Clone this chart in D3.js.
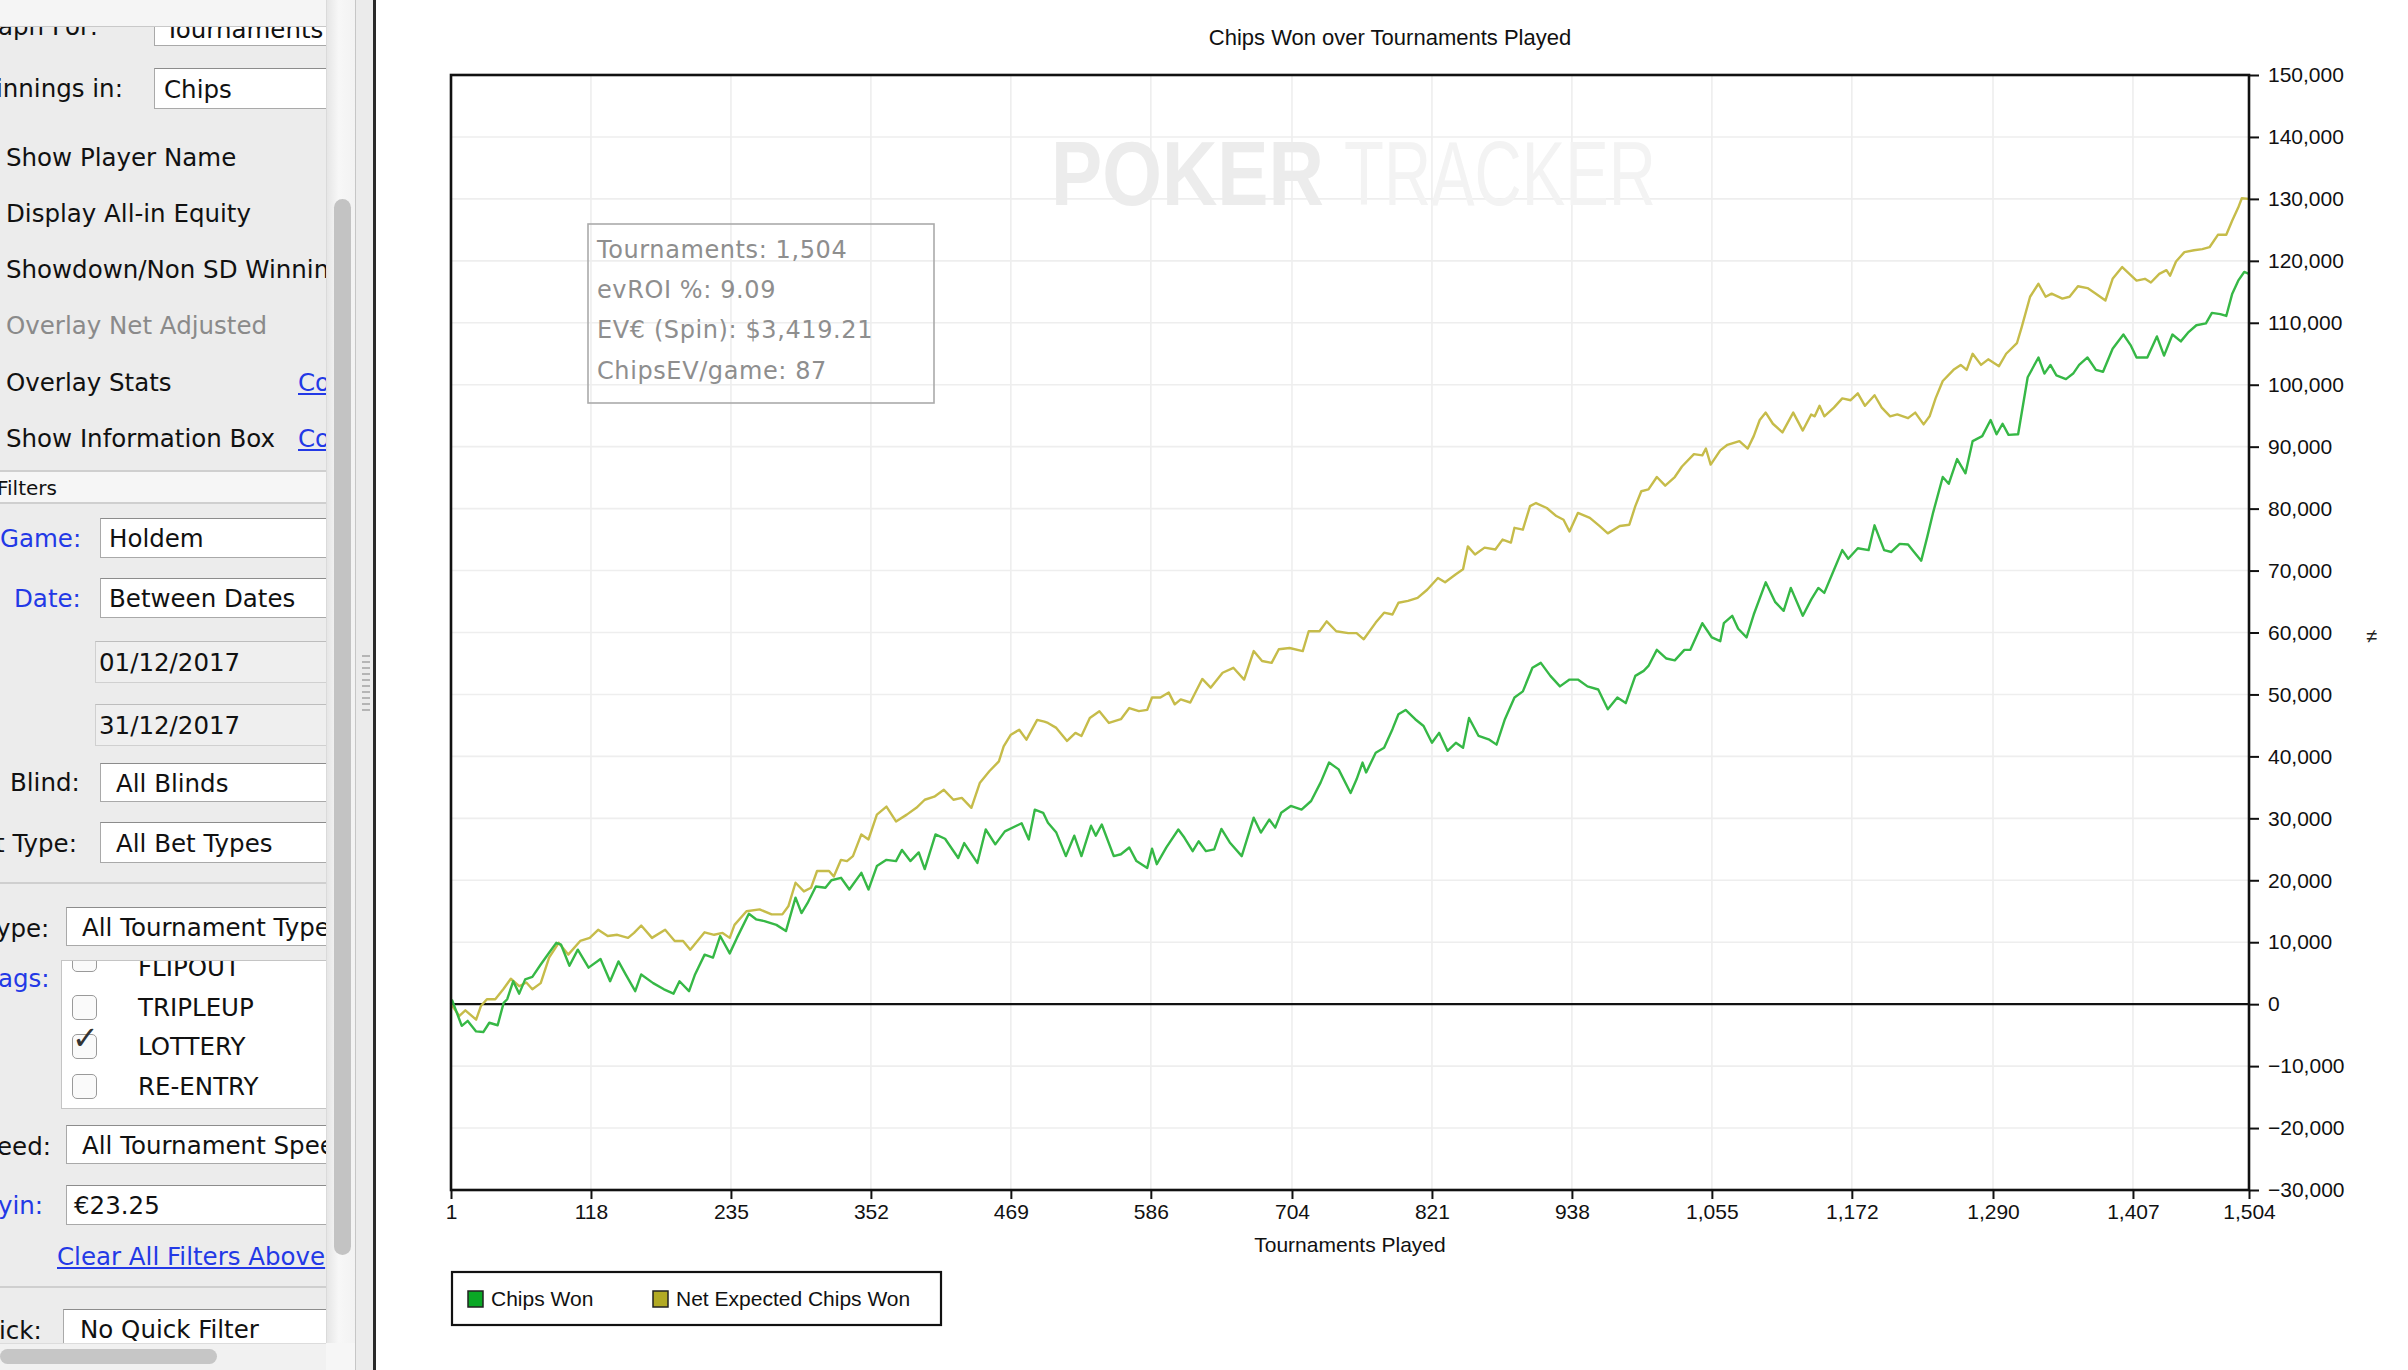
<!DOCTYPE html>
<html>
<head>
<meta charset="utf-8">
<script src="https://cdn.jsdelivr.net/npm/d3@7"></script>
<style>
  html, body { margin: 0; padding: 0; }
  body { width: 2408px; height: 1370px; overflow: hidden; background: #fff; position: relative; }
  #panel { position: absolute; left: 0; top: 0; width: 326px; height: 1370px; background: #ececec; overflow: hidden;
           font-family: "DejaVu Sans", sans-serif; font-size: 24.5px; color: #111; }
  .lbl { position: absolute; white-space: nowrap; line-height: 30px; height: 30px; }
  .blue { color: #2339e6; }
  .gray { color: #8a8a8a; }
  .link { color: #2339e6; text-decoration: underline; }
  .field { position: absolute; background: #fff; border: 1px solid #a9a9a9; border-top-color: #8c8c8c; box-sizing: border-box;
           white-space: nowrap; overflow: hidden; }
  .field span { position: absolute; top: 50%; transform: translateY(-50%); }
  .datef { background: #efefef; border-color: #d0d0d0; border-top-color: #bdbdbd; }
  .sep { position: absolute; left: 0; width: 326px; height: 2px; background: #cfcfcf; }
  .cb { position: absolute; width: 25px; height: 25px; border: 1px solid #9a9a9a; border-radius: 5px; background: #fafafa; box-sizing: border-box; }
  #chart { position: absolute; left: 0; top: 0; }
</style>
</head>
<body>
<div id="panel">
  <div class="lbl" style="left:-2px; top:12px;">aph For:</div>
  <div class="field" style="left:154px; top:18px; width:180px; height:28px;"><span style="left:10px; top:10px;">Tournaments</span></div>
  <div style="position:absolute; left:0; top:0; width:326px; height:26px; background:#f5f5f5; border-bottom:1px solid #c9c9c9;"></div>

  <div class="lbl" style="left:-4px; top:74px;">innings in:</div>
  <div class="field" style="left:154px; top:68px; width:180px; height:41px;"><span style="left:9px;">Chips</span></div>

  <div class="lbl" style="left:6px; top:143px;">Show Player Name</div>
  <div class="lbl" style="left:6px; top:199px;">Display All-in Equity</div>
  <div class="lbl" style="left:6px; top:255px;">Showdown/Non SD Winnings</div>
  <div class="lbl gray" style="left:6px; top:311px;">Overlay Net Adjusted</div>
  <div class="lbl" style="left:6px; top:368px;">Overlay Stats</div>
  <div class="lbl link" style="left:298px; top:368px;">Configure</div>
  <div class="lbl" style="left:6px; top:424px;">Show Information Box</div>
  <div class="lbl link" style="left:298px; top:424px;">Configure</div>

  <div class="sep" style="top:470px;"></div>
  <div style="position:absolute; left:0; top:472px; width:326px; height:30px; background:#f6f6f6;"></div>
  <div class="lbl" style="left:-3px; top:473px; font-size:20px;">Filters</div>
  <div class="sep" style="top:502px;"></div>

  <div class="lbl blue" style="left:0px; top:524px;">Game:</div>
  <div class="field" style="left:100px; top:518px; width:240px; height:40px;"><span style="left:8px;">Holdem</span></div>
  <div class="lbl blue" style="left:14px; top:584px;">Date:</div>
  <div class="field" style="left:100px; top:578px; width:240px; height:40px;"><span style="left:8px;">Between Dates</span></div>
  <div class="field datef" style="left:95px; top:641px; width:245px; height:42px;"><span style="left:3px;">01/12/2017</span></div>
  <div class="field datef" style="left:95px; top:704px; width:245px; height:42px;"><span style="left:3px;">31/12/2017</span></div>

  <div class="lbl" style="left:10px; top:768px;">Blind:</div>
  <div class="field" style="left:100px; top:763px; width:240px; height:39px;"><span style="left:15px;">All Blinds</span></div>
  <div class="lbl" style="left:-5px; top:829px;">t Type:</div>
  <div class="field" style="left:100px; top:822px; width:240px; height:41px;"><span style="left:15px;">All Bet Types</span></div>

  <div class="sep" style="top:882px;"></div>

  <div class="lbl" style="left:-4px; top:914px;">ype:</div>
  <div class="field" style="left:66px; top:907px; width:280px; height:39px;"><span style="left:15px;">All Tournament Types</span></div>

  <div class="lbl blue" style="left:-2px; top:964px;">ags:</div>
  <div class="field" style="left:61px; top:960px; width:280px; height:149px; border-color:#c4c4c4;">
    <div class="cb" style="left:10px; top:-14px;"></div>
    <div class="lbl" style="left:76px; top:-8px;">FLIPOUT</div>
    <div class="cb" style="left:10px; top:34px;"></div>
    <div class="lbl" style="left:76px; top:32px;">TRIPLEUP</div>
    <div class="cb" style="left:10px; top:73px;"></div>
    <div class="lbl" style="left:10px; top:62px; font-size:32px; font-weight:bold; color:#333;">&#10003;</div>
    <div class="lbl" style="left:76px; top:71px;">LOTTERY</div>
    <div class="cb" style="left:10px; top:113px;"></div>
    <div class="lbl" style="left:76px; top:111px;">RE-ENTRY</div>
  </div>

  <div class="lbl" style="left:-3px; top:1132px;">eed:</div>
  <div class="field" style="left:66px; top:1125px; width:280px; height:39px;"><span style="left:15px;">All Tournament Speeds</span></div>
  <div class="lbl blue" style="left:-2px; top:1191px;">yin:</div>
  <div class="field" style="left:66px; top:1185px; width:280px; height:40px;"><span style="left:7px;">€23.25</span></div>
  <div class="lbl link" style="left:57px; top:1242px;">Clear All Filters Above</div>

  <div class="sep" style="top:1286px;"></div>
  <div class="lbl" style="left:-1px; top:1316px;">ick:</div>
  <div class="field" style="left:63px; top:1309px; width:280px; height:40px;"><span style="left:16px;">No Quick Filter</span></div>

  <div style="position:absolute; left:0; top:1343px; width:326px; height:27px; background:#f1f1f1; border-top:1px solid #dcdcdc;"></div>
  <div style="position:absolute; left:0; top:1349px; width:217px; height:15px; background:#c6c6c6; border-radius:8px;"></div>
</div>

<!-- scrollbar and divider -->
<div style="position:absolute; left:326px; top:0; width:29px; height:1343px; background:linear-gradient(to right,#e6e6e6,#f7f7f7 40%,#f2f2f2); border-left:1px solid #dadada;"></div>
<div style="position:absolute; left:334px; top:199px; width:17px; height:1056px; background:#c3c3c3; border-radius:9px;"></div>
<div style="position:absolute; left:326px; top:1343px; width:30px; height:27px; background:#f6f6f6;"></div>
<div style="position:absolute; left:355px; top:0; width:17px; height:1370px; background:#ebebeb; border-left:1px solid #c6c6c6; border-right:1px solid #d8d8d8;"></div>
<div style="position:absolute; left:373px; top:0; width:3px; height:1370px; background:#2a2a2a;"></div>
<div style="position:absolute; left:362px; top:655px; width:8px; height:56px; background:repeating-linear-gradient(to bottom,#b5b5b5 0 2px,transparent 2px 6px);"></div>

<svg id="chart" width="2408" height="1370"></svg>

<script>
// x ticks, y ticks
const xTicks = [1, 118, 235, 352, 469, 586, 704, 821, 938, 1055, 1172, 1290, 1407, 1504];
const yTicks = d3.range(-30000, 150001, 10000);

// Chips Won (thousands)
const chipsWonAt = [1,2,10,15,22,28,33,40,45,48,53,58,63,69,76,83,89,93,100,107,116,126,134,141,147,155,160,170,179,187,192,200,205,213,220,226,234,240,250,256,263,273,281,289,294,299,306,314,319,327,334,344,350,357,365,373,378,385,392,397,406,414,425,430,441,448,456,464,478,484,489,496,
  500,507,515,522,528,536,540,545,555,561,568,574,583,587,591,599,609,614,621,626,632,639,645,652,662,672,678,685,690,695,703,712,720,728,735,743,753,758,763,766,774,781,788,793,799,807,814,821,827,834,841,847,852,860,869,875,882,890,897,905,912,920,928,936,943,951,960,968,976,983,991,998,
  1002,1009,1017,1024,1032,1037,1047,1055,1062,1065,1072,1077,1084,1090,1100,1108,1115,1121,1131,1138,1144,1149,1157,1164,1169,1177,1186,1191,1199,1205,1212,1219,1224,1230,1235,1240,1248,1253,1260,1267,1273,1281,1288,1293,1298,1303,1311,1319,1328,1333,1338,1343,1351,1357,1362,1369,1376,1382,1390,1399,1405,1410,1419,1427,1433,1440,1447,1453,1460,1468,1473,1480,1485,1490,1495,1500,1504];
const chipsWon = [0,0.6,-3.5,-2.7,-4.4,-4.5,-3.0,-3.4,0.2,0.8,3.7,1.7,4.0,4.4,6.4,8.3,9.9,9.6,6.2,8.8,5.9,7.3,3.7,6.9,4.8,2.1,4.8,3.4,2.4,1.7,3.7,2.1,4.8,8.0,7.5,11.0,8.2,10.7,14.6,13.7,13.4,12.8,11.8,17.2,14.7,16.3,19.0,18.8,20.0,20.4,18.5,21.2,18.5,22.3,23.3,23.1,24.9,23.1,24.5,21.8,27.4,26.7,23.6,26.0,22.8,28.2,25.8,27.9,29.2,26.6,31.4,30.9,
  29.3,27.7,23.9,27.2,23.9,28.8,27.2,29.0,23.9,24.2,25.3,23.1,22.0,25.1,22.6,25.3,28.2,26.9,24.7,26.3,24.7,25.0,28.3,26.1,23.9,30.1,27.7,29.8,28.5,30.9,32.0,31.4,32.8,35.8,39.0,37.9,34.1,36.3,39.0,37.4,40.6,41.4,44.4,46.8,47.5,46.0,44.9,42.2,43.8,40.9,42.2,41.4,46.2,43.3,42.7,41.9,46.0,49.5,50.5,54.3,55.1,53.0,51.3,52.4,52.4,51.3,50.8,47.6,49.5,48.6,53.0,53.8,
  54.6,57.2,55.8,55.5,57.2,57.2,61.5,59.2,58.6,61.5,62.7,60.6,59.2,62.9,68.1,64.9,63.5,67.2,62.7,65.3,67.2,66.4,70.1,73.3,71.9,73.6,73.3,77.3,73.3,73.0,74.3,74.2,73.0,71.6,75.4,79.4,85.1,84.0,88.0,85.7,90.9,91.7,94.3,92.0,93.7,91.9,92.0,101.2,104.4,101.8,103.2,101.5,100.9,101.8,103.2,104.4,102.4,102.1,105.8,108.1,106.4,104.4,104.4,107.8,104.7,108.1,107.0,108.4,109.6,109.9,111.6,111.4,111.1,114.7,116.8,118.2,117.9];

// Net Expected Chips Won (thousands)
const netExpectedAt = [1,8,13,22,26,31,38,45,51,58,64,69,76,83,91,99,109,117,124,132,140,149,154,160,169,180,188,195,201,207,213,221,228,234,238,248,259,269,278,283,289,296,302,307,317,321,327,332,337,344,350,357,365,373,382,390,397,405,413,421,428,436,443,451,459,463,469,476,482,491,497,
  500,507,516,523,528,535,543,551,561,568,576,583,587,594,601,606,611,619,629,636,646,655,664,672,679,687,693,702,713,718,727,733,741,751,758,764,774,781,788,793,801,809,817,826,832,841,847,851,857,865,874,880,887,890,897,903,908,917,925,931,936,943,953,961,968,978,986,991,996,
  1002,1009,1016,1024,1030,1040,1047,1050,1054,1062,1068,1078,1085,1090,1095,1100,1106,1114,1123,1131,1138,1141,1145,1149,1157,1164,1171,1177,1183,1191,1197,1204,1210,1219,1225,1232,1237,1242,1248,1257,1263,1268,1273,1280,1286,1295,1301,1310,1314,1321,1328,1334,1339,1348,1354,1361,1369,1376,1384,1390,1398,1404,1410,1417,1422,1429,1435,1438,1443,1450,1458,1465,1471,1478,1485,1490,1495,1498,1504];
const netExpected = [0,-1.9,-1.0,-2.5,-0.3,0.8,0.8,2.5,4.1,2.9,3.5,2.4,3.4,7.5,9.9,8.0,10.2,10.7,12.0,11.0,11.2,10.7,11.5,12.7,10.7,12.0,10.2,10.2,8.8,10.2,11.6,11.2,11.5,10.7,12.8,15.0,15.3,14.5,14.5,15.8,19.6,18.2,18.8,21.5,21.5,20.6,23.3,23.1,23.9,27.4,26.6,30.6,31.9,29.5,30.6,31.7,33.0,33.5,34.6,33.0,33.3,31.7,35.7,37.6,39.2,41.6,43.5,44.3,42.7,45.9,45.6,
  45.4,44.6,42.5,43.8,43.3,46.2,47.3,45.4,46.0,47.8,47.3,47.5,49.5,49.5,50.3,48.4,49.2,48.7,52.5,51.1,53.5,54.3,52.4,57.0,55.4,55.1,57.3,57.5,57.0,60.2,60.2,61.8,60.2,59.9,59.9,58.9,61.6,63.2,62.9,64.8,65.1,65.6,66.9,68.8,68.1,69.4,70.2,73.9,72.6,73.7,73.4,75.0,74.5,76.9,76.6,80.4,80.9,80.1,78.8,78.2,76.3,79.3,78.5,77.2,76.0,77.2,77.4,80.4,82.8,
  83.1,85.1,83.7,85.1,86.8,88.8,88.6,89.7,87.1,89.4,90.3,90.9,89.7,91.7,94.3,95.5,93.7,92.3,95.5,92.6,95.2,94.9,96.6,94.9,96.3,97.8,97.5,98.6,96.6,98.3,96.3,94.9,95.2,94.6,95.5,93.6,94.9,97.8,100.6,102.4,103.2,102.4,105.0,103.2,104.1,103.0,105.0,106.7,109.3,114.2,116.3,114.2,114.7,113.9,114.2,115.9,115.6,114.7,113.6,117.1,119.0,117.9,116.8,117.1,116.5,117.9,118.5,117.6,119.9,121.4,121.7,121.9,122.2,124.2,124.2,126.5,128.6,130.1,130.0];

const infoLines = ["Tournaments: 1,504", "evROI %: 9.09", "EV€ (Spin): $3,419.21", "ChipsEV/game: 87"];
const legendItems = [
  { name: "Chips Won", swatch: "#0aa825", line: "#36b846" },
  { name: "Net Expected Chips Won", swatch: "#b2aa24", line: "#c6bc4a" }
];

const plot = { left: 451, right: 2249, top: 75, bottom: 1190 };
const svg = d3.select("#chart");
const axisFont = "'Liberation Sans', Arial, sans-serif";

const x = d3.scaleLinear().domain([1, 1504]).range([plot.left, plot.right]);
const y = d3.scaleLinear().domain([-30000, 150000]).range([plot.bottom, plot.top]);

// grid
svg.append("g").selectAll("line").data(xTicks).enter().append("line")
  .attr("x1", d => x(d)).attr("x2", d => x(d))
  .attr("y1", plot.top).attr("y2", plot.bottom)
  .attr("stroke", "#eeeeee").attr("stroke-width", 1.6);
svg.append("g").selectAll("line").data(yTicks).enter().append("line")
  .attr("x1", plot.left).attr("x2", plot.right)
  .attr("y1", d => y(d)).attr("y2", d => y(d))
  .attr("stroke", "#eeeeee").attr("stroke-width", 1.6);

// watermark
svg.append("text").text("POKER")
  .attr("x", 1051).attr("y", 205)
  .attr("textLength", 273).attr("lengthAdjust", "spacingAndGlyphs")
  .style("font-family", axisFont).style("font-weight", "bold").style("font-size", "90px")
  .attr("fill", "#ececec");
svg.append("text").text("TRACKER")
  .attr("x", 1344).attr("y", 205)
  .attr("textLength", 312).attr("lengthAdjust", "spacingAndGlyphs")
  .style("font-family", axisFont).style("font-size", "90px")
  .attr("fill", "#f3f3f3");

// zero line
svg.append("line")
  .attr("x1", plot.left).attr("x2", plot.right)
  .attr("y1", y(0)).attr("y2", y(0))
  .attr("stroke", "#111").attr("stroke-width", 2.2);

// info box
svg.append("rect")
  .attr("x", 588).attr("y", 224).attr("width", 346).attr("height", 179)
  .attr("fill", "none").attr("stroke", "#ababab").attr("stroke-width", 1.6);
svg.append("g").selectAll("text").data(infoLines).enter().append("text")
  .text(d => d)
  .attr("x", 597).attr("y", (d, i) => 249 + i * 40.3)
  .attr("dy", "0.36em")
  .style("font-family", "'DejaVu Sans', sans-serif").style("font-size", "24px").style("letter-spacing", "0.6px")
  .attr("fill", "#8e8e8e");

// series lines
const line = d3.line().x(d => x(d[0])).y(d => y(d[1]));
const seriesPts = [
  netExpectedAt.map((t, i) => [t, netExpected[i] * 1000]),
  chipsWonAt.map((t, i) => [t, chipsWon[i] * 1000])
];
svg.append("path").datum(seriesPts[0])
  .attr("d", line).attr("fill", "none")
  .attr("stroke", legendItems[1].line).attr("stroke-width", 2.4).attr("stroke-linejoin", "round");
svg.append("path").datum(seriesPts[1])
  .attr("d", line).attr("fill", "none")
  .attr("stroke", legendItems[0].line).attr("stroke-width", 2.4).attr("stroke-linejoin", "round");

// frame
svg.append("rect")
  .attr("x", plot.left).attr("y", plot.top)
  .attr("width", plot.right - plot.left).attr("height", plot.bottom - plot.top)
  .attr("fill", "none").attr("stroke", "#111").attr("stroke-width", 2.6);

// axes
const yAxis = svg.append("g")
  .attr("transform", "translate(" + plot.right + ",0)")
  .call(d3.axisRight(y).tickValues(yTicks).tickSize(10).tickSizeOuter(0).tickPadding(9).tickFormat(d3.format(",")));
const xAxis = svg.append("g")
  .attr("transform", "translate(0," + plot.bottom + ")")
  .call(d3.axisBottom(x).tickValues(xTicks).tickSize(9).tickSizeOuter(0).tickPadding(5).tickFormat(d3.format(",")));
[yAxis, xAxis].forEach(a => {
  a.select(".domain").remove();
  a.selectAll("line").attr("stroke", "#111").attr("stroke-width", 2);
  a.selectAll("text").style("font-family", axisFont).style("font-size", "21px").attr("fill", "#111");
});

// titles
svg.append("text").text("Chips Won over Tournaments Played")
  .attr("x", 1390).attr("y", 37).attr("dy", "0.35em").attr("text-anchor", "middle")
  .style("font-family", axisFont).style("font-size", "22px").attr("fill", "#111");
svg.append("text").text("Tournaments Played")
  .attr("x", (plot.left + plot.right) / 2).attr("y", 1245).attr("dy", "0.35em").attr("text-anchor", "middle")
  .style("font-family", axisFont).style("font-size", "21px").attr("fill", "#111");

// legend
const lg = svg.append("g").attr("transform", "translate(452,1272)");
lg.append("rect").attr("width", 489).attr("height", 53)
  .attr("fill", "#fff").attr("stroke", "#111").attr("stroke-width", 2.2);
const legendX = [16, 201];
const item = lg.selectAll(".item").data(legendItems).enter().append("g")
  .attr("class", "item")
  .attr("transform", (d, i) => "translate(" + legendX[i] + ",0)");
item.append("rect").attr("x", 0).attr("y", 19).attr("width", 15).attr("height", 16)
  .attr("fill", d => d.swatch).attr("stroke", "#222").attr("stroke-width", 1.5);
item.append("text").text(d => d.name)
  .attr("x", 23).attr("y", 27).attr("dy", "0.35em")
  .style("font-family", axisFont).style("font-size", "21px").attr("fill", "#111");

// small resize glyph at the right edge
svg.append("text").text("≠").attr("x", 2366).attr("y", 643)
  .style("font-family", axisFont).style("font-size", "20px").attr("fill", "#222");
</script>
</body>
</html>
